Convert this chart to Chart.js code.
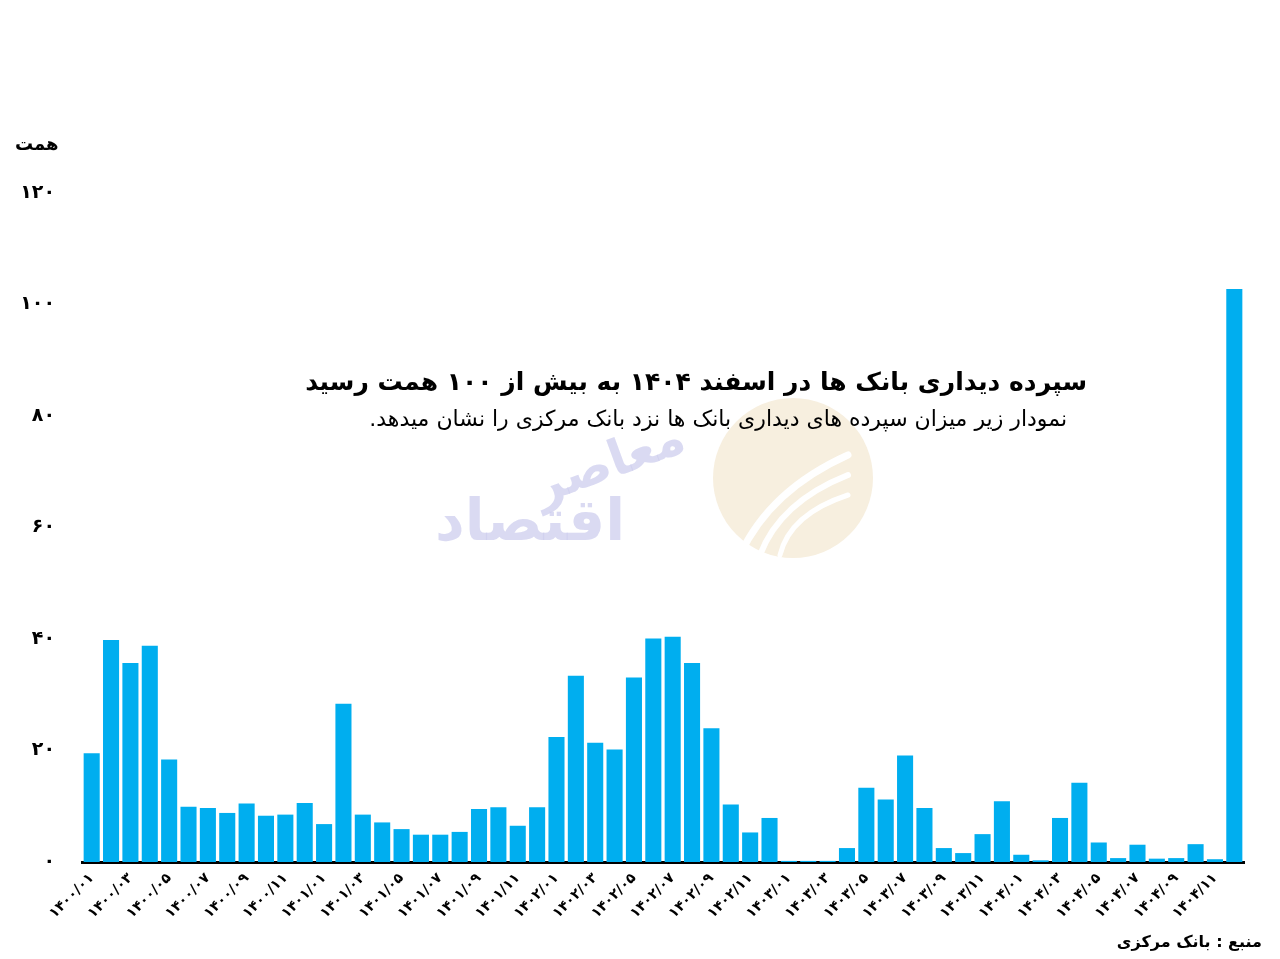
<!DOCTYPE html>
<html lang="fa">
<head>
  <meta charset="UTF-8">
  <title>سپرده دیداری بانک ها</title>
  <script src="https://cdn.jsdelivr.net/npm/chart.js"></script>
  <style>
    body {
      margin: 0;
      padding: 0;
      background: #ffffff;
    }
    canvas {
      display: block;
    }
  </style>
</head>
<body>
  <canvas id="depositChart" width="1280" height="959"></canvas>

  <script>
    // months 1400/01 .. 1404/12
    const categories = [
      '۱۴۰۰/۰۱', '۱۴۰۰/۰۲', '۱۴۰۰/۰۳', '۱۴۰۰/۰۴', '۱۴۰۰/۰۵', '۱۴۰۰/۰۶', '۱۴۰۰/۰۷', '۱۴۰۰/۰۸', '۱۴۰۰/۰۹', '۱۴۰۰/۱۰', '۱۴۰۰/۱۱', '۱۴۰۰/۱۲',
      '۱۴۰۱/۰۱', '۱۴۰۱/۰۲', '۱۴۰۱/۰۳', '۱۴۰۱/۰۴', '۱۴۰۱/۰۵', '۱۴۰۱/۰۶', '۱۴۰۱/۰۷', '۱۴۰۱/۰۸', '۱۴۰۱/۰۹', '۱۴۰۱/۱۰', '۱۴۰۱/۱۱', '۱۴۰۱/۱۲',
      '۱۴۰۲/۰۱', '۱۴۰۲/۰۲', '۱۴۰۲/۰۳', '۱۴۰۲/۰۴', '۱۴۰۲/۰۵', '۱۴۰۲/۰۶', '۱۴۰۲/۰۷', '۱۴۰۲/۰۸', '۱۴۰۲/۰۹', '۱۴۰۲/۱۰', '۱۴۰۲/۱۱', '۱۴۰۲/۱۲',
      '۱۴۰۳/۰۱', '۱۴۰۳/۰۲', '۱۴۰۳/۰۳', '۱۴۰۳/۰۴', '۱۴۰۳/۰۵', '۱۴۰۳/۰۶', '۱۴۰۳/۰۷', '۱۴۰۳/۰۸', '۱۴۰۳/۰۹', '۱۴۰۳/۱۰', '۱۴۰۳/۱۱', '۱۴۰۳/۱۲',
      '۱۴۰۴/۰۱', '۱۴۰۴/۰۲', '۱۴۰۴/۰۳', '۱۴۰۴/۰۴', '۱۴۰۴/۰۵', '۱۴۰۴/۰۶', '۱۴۰۴/۰۷', '۱۴۰۴/۰۸', '۱۴۰۴/۰۹', '۱۴۰۴/۱۰', '۱۴۰۴/۱۱', '۱۴۰۴/۱۲'
    ];

    // demand deposits (همت)
    const deposits1400 = [19.5, 39.8, 35.7, 38.8, 18.4, 9.9, 9.7, 8.8, 10.5, 8.3, 8.5, 10.6];
    const deposits1401 = [6.8, 28.4, 8.5, 7.1, 5.9, 4.9, 4.9, 5.4, 9.5, 9.8, 6.5, 9.8];
    const deposits1402 = [22.4, 33.4, 21.4, 20.2, 33.1, 40.1, 40.4, 35.7, 24.0, 10.3, 5.3, 7.9];
    const deposits1403 = [0.2, 0.2, 0.2, 2.5, 13.3, 11.2, 19.1, 9.7, 2.5, 1.6, 5.0, 10.9];
    const deposits1404 = [1.3, 0.3, 7.9, 14.2, 3.5, 0.7, 3.1, 0.6, 0.7, 3.2, 0.5, 102.8];

    const yTickLabels = ['۰', '۲۰', '۴۰', '۶۰', '۸۰', '۱۰۰', '۱۲۰'];

    const titleText = 'سپرده دیداری بانک ها در اسفند ۱۴۰۴ به بیش از ۱۰۰ همت رسید';
    const subtitleText = 'نمودار زیر میزان سپرده های دیداری بانک ها نزد بانک مرکزی را نشان میدهد.';
    const unitText = 'همت';
    const sourceText = 'منبع : بانک مرکزی';

    const values = [].concat(deposits1400, deposits1401, deposits1402, deposits1403, deposits1404);

    const FONT = "'DejaVu Sans', sans-serif";

    // background + faint logo watermark
    const backdrop = {
      id: 'backdrop',
      beforeDraw(chart) {
        const ctx = chart.ctx;
        ctx.save();
        ctx.fillStyle = '#ffffff';
        ctx.fillRect(0, 0, chart.width, chart.height);

        // circle logo
        ctx.fillStyle = '#f7efdf';
        ctx.beginPath();
        ctx.arc(793, 478, 80, 0, Math.PI * 2);
        ctx.fill();
        ctx.strokeStyle = '#ffffff';
        ctx.lineCap = 'round';
        [[0, 7], [20, 6], [40, 5]].forEach(([d, w]) => {
          ctx.lineWidth = w;
          ctx.beginPath();
          ctx.moveTo(740 + d, 555);
          ctx.quadraticCurveTo(770 + d * 0.5, 490 + d * 0.6, 848, 455 + d);
          ctx.stroke();
        });

        // calligraphy text
        ctx.fillStyle = 'rgba(205, 205, 238, 0.75)';
        ctx.textAlign = 'center';
        ctx.textBaseline = 'middle';
        ctx.direction = 'rtl';
        ctx.font = 'bold 50px ' + FONT;
        ctx.save();
        ctx.translate(610, 465);
        ctx.rotate(-0.35);
        ctx.fillText('معاصر', 0, 0);
        ctx.restore();
        ctx.font = 'bold 58px ' + FONT;
        ctx.fillText('اقتصاد', 530, 525);
        ctx.restore();
      },
      afterDraw(chart) {
        const ctx = chart.ctx;
        ctx.save();
        ctx.direction = 'rtl';
        ctx.fillStyle = '#000000';
        ctx.textBaseline = 'middle';

        ctx.textAlign = 'right';
        ctx.font = 'bold 25px ' + FONT;
        ctx.fillText(titleText, 1087, 383);

        ctx.font = '22px ' + FONT;
        ctx.fillText(subtitleText, 1067, 420);

        ctx.font = 'bold 18px ' + FONT;
        ctx.textAlign = 'left';
        ctx.fillText(unitText, 15, 145);

        ctx.font = 'bold 16px ' + FONT;
        ctx.textAlign = 'right';
        ctx.fillText(sourceText, 1262, 943);
        ctx.restore();
      }
    };

    const ctx = document.getElementById('depositChart').getContext('2d');
    new Chart(ctx, {
      type: 'bar',
      data: {
        labels: categories,
        datasets: [{
          data: values,
          backgroundColor: '#00aeef',
          borderWidth: 0,
          barPercentage: 0.83,
          categoryPercentage: 1.0
        }]
      },
      options: {
        responsive: false,
        animation: false,
        layout: {
          padding: { top: 193, right: 36, left: 0, bottom: 0 }
        },
        plugins: {
          legend: { display: false },
          tooltip: { enabled: false }
        },
        scales: {
          x: {
            grid: { display: false, drawTicks: false },
            border: { display: true, color: '#000000', width: 3 },
            ticks: {
              autoSkip: false,
              maxRotation: 45,
              minRotation: 45,
              padding: 8,
              color: '#000000',
              font: { family: FONT, weight: 'bold', size: 14 },
              callback: (value, index) => index % 2 === 0 ? categories[index] : ''
            },
            afterFit: scale => { scale.height = 97; }
          },
          y: {
            min: 0,
            max: 120,
            grid: { display: false, drawTicks: false },
            border: { display: false },
            ticks: {
              stepSize: 20,
              padding: 27,
              color: '#000000',
              font: { family: FONT, weight: 'bold', size: 19 },
              callback: value => yTickLabels[value / 20]
            },
            afterFit: scale => { scale.width = 82; }
          }
        }
      },
      plugins: [backdrop]
    });
  </script>
</body>
</html>
